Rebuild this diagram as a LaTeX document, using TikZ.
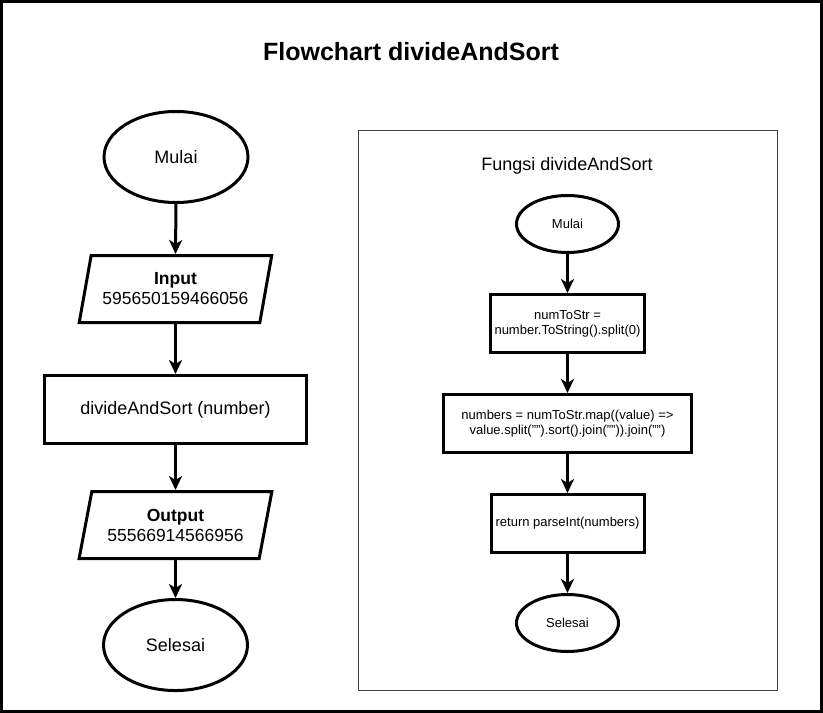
\documentclass[tikz,border=0pt]{standalone}
\usepackage{fontspec}
\setmainfont{Liberation Sans}
\usetikzlibrary{shapes.geometric, arrows.meta, positioning}

\begin{document}
\begin{tikzpicture}[
        x=1pt, y=-1pt,
        node distance=39pt,
    startstop/.style={ellipse, draw, line width=3pt, minimum width=144pt, minimum height=91pt, font=\fontsize{18}{21}\selectfont},
    smallstop/.style={ellipse, draw, line width=3pt, minimum width=102pt, minimum height=57pt, font=\fontsize{13}{15}\selectfont},
    io/.style={trapezium, trapezium left angle=73, trapezium right angle=107, trapezium stretches=true, draw, line width=3pt, minimum width=193pt, minimum height=67pt, align=center, inner sep=1pt, font=\fontsize{17.5}{20}\selectfont},
    process/.style={rectangle, draw, line width=3pt, minimum width=262pt, minimum height=68pt, font=\fontsize{18}{21}\selectfont},
    smallproc/.style={rectangle, draw, line width=3pt, minimum height=58pt, align=center, inner sep=1pt, font=\fontsize{13}{15}\selectfont},
    frame/.style={rectangle, draw=black!75, line width=1pt, minimum width=419pt, minimum height=560pt},
    line/.style={draw, -{Stealth[length=14pt,width=13pt,inset=4pt]}, line width=3pt}
    ]
    \useasboundingbox (0,0) rectangle (823,713);
    \draw[line width=3pt] (1.5,1.5) rectangle (821.5,711.5);

    % title
    \node[font=\fontsize{25}{29}\selectfont\bfseries] (title) at (411,52) {Flowchart divideAndSort};

    % main flow
    \node[startstop] (mulai) at (176,157) {Mulai};
    \node[io, below=50pt of mulai, xshift=-0.5pt] (input) {\textbf{Input}\\595650159466056};
    \node[process, below=50pt of input] (proses) {divideAndSort (number)};
    \node[io, below=45pt of proses] (output) {\textbf{Output}\\55566914566956};
    \node[startstop, below=38pt of output] (selesai) {Selesai};

    % function box
    \node[frame] (fungsi) at (567.5,410) {};
    \node[font=\fontsize{18}{21}\selectfont] (fungsititle) at (567,166) {Fungsi divideAndSort};
    \node[smallstop] (fmulai) at (567.5,224) {Mulai};
    \node[smallproc, below=of fmulai, minimum width=154pt] (numtostr) {numToStr =\\number.ToString().split(0)};
    \node[smallproc, below=of numtostr, minimum width=248pt] (numbers) {numbers = numToStr.map((value) =>\\value.split("").sort().join("")).join("")};
    \node[smallproc, below=of numbers, minimum width=153pt] (ret) {return parseInt(numbers)};
    \node[smallstop, below=of ret] (fselesai) {Selesai};

    % lines
    \path[line] (mulai.south) -- (input.north);
    \path[line] (input.south) -- (proses.north);
    \path[line] (proses.south) -- (output.north);
    \path[line] (output.south) -- (selesai.north);
    \path[line] (fmulai.south) -- (numtostr.north);
    \path[line] (numtostr.south) -- (numbers.north);
    \path[line] (numbers.south) -- (ret.north);
    \path[line] (ret.south) -- (fselesai.north);

    \end{tikzpicture}
\end{document}
